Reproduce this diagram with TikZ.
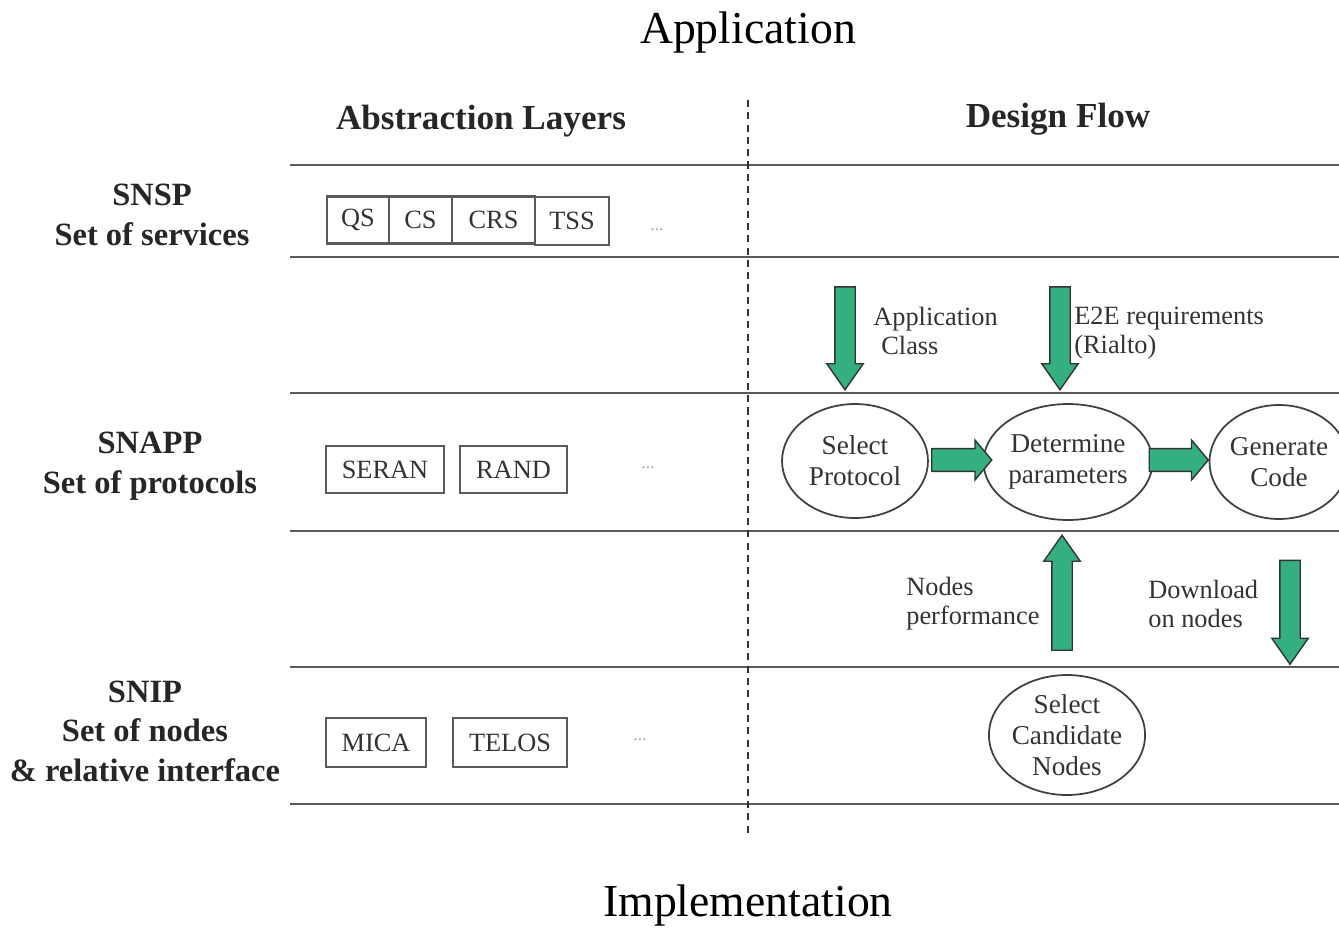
\documentclass[tikz,border=0pt]{standalone}
\usepackage{fontspec}
\setmainfont{Liberation Serif}
\usetikzlibrary{shapes.geometric,shapes.arrows}
\definecolor{flowgreen}{RGB}{52,176,128}
\definecolor{linegray}{RGB}{90,90,90}
\begin{document}
\begin{tikzpicture}[x=0.02cm,y=-0.02cm,
  layerline/.style={draw=linegray,line width=1.5pt},
  itembox/.style={draw=linegray,line width=1.2pt,inner sep=0pt,font=\fontsize{15}{17}\selectfont,text=black!80},
  flowcirc/.style={draw=black!75,line width=1pt,ellipse,inner sep=0pt,align=center,font=\fontsize{15.5}{17.5}\selectfont,text=black!80},
  fatarrow/.style={single arrow,draw=black!80,fill=flowgreen,line width=0.8pt,inner xsep=0pt,inner ysep=0.19cm,single arrow head extend=0.16cm,single arrow tip angle=70,minimum width=0.7cm},
  sidearrow/.style={single arrow,draw=black!80,fill=flowgreen,line width=0.8pt,inner xsep=0pt,inner ysep=0.21cm,single arrow head extend=0.17cm,single arrow tip angle=100},
  layertitle/.style={font=\bfseries\fontsize{18.5}{22.5}\selectfont,align=center,text=black!85},
  coltitle/.style={font=\bfseries\fontsize{20}{24}\selectfont,text=black!85},
  flowlabel/.style={font=\fontsize{15}{16.5}\selectfont,align=left,anchor=west,text=black!80,inner sep=0pt},
  dots/.style={font=\fontsize{10}{11}\selectfont,text=black!35}]
\useasboundingbox (0,0) rectangle (1339,927);
% titles
\node[font=\fontsize{26}{30}\selectfont] (app) at (748,33) {Application};
\node[font=\fontsize{26}{30}\selectfont] (impl) at (748,906) {Implementation};
\node[coltitle] (abs) at (481,121) {Abstraction Layers};
\node[coltitle] (des) at (1058,119) {Design Flow};
% layer lines
\foreach \yy/\nm in {165/l1,257/l2,393/l3,531/l4,667/l5,804/l6}{
  \coordinate (\nm w) at (290,\yy);
  \coordinate (\nm e) at (1339,\yy);
  \draw[layerline] (\nm w) -- (\nm e);
}
% dashed divider
\coordinate (dtop) at (748,100);
\coordinate (dbot) at (748,836);
\draw[black!80,line width=0.9pt,dash pattern=on 4pt off 3pt] (dtop) -- (dbot);
% layer labels
\node[layertitle] (snsp) at (152,215) {SNSP\\Set of services};
\node[layertitle] (snapp) at (150,466) {SNAPP\\Set of protocols};
\node[layertitle] (snip) at (145,731) {SNIP\\Set of nodes\\\&~relative interface};
% service boxes
\node[itembox,minimum width=1.24cm,minimum height=0.94cm] (qs) at (358,220) {QS};
\node[itembox,minimum width=1.26cm,minimum height=0.94cm] (cs) at (420.5,220) {CS};
\node[itembox,minimum width=1.66cm,minimum height=0.94cm] (crs) at (493.5,220) {CRS};
\node[itembox,minimum width=1.48cm,minimum height=0.96cm] (tss) at (572,221) {TSS};
\node[dots] (d1) at (657,230) {...};
% protocol boxes
\node[itembox,minimum width=2.36cm,minimum height=0.94cm] (seran) at (385,469.5) {SERAN};
\node[itembox,minimum width=2.14cm,minimum height=0.94cm] (rand) at (513.5,469.5) {RAND};
\node[dots] (d2) at (648,468) {...};
% node boxes
\node[itembox,minimum width=2.0cm,minimum height=0.98cm] (mica) at (376,742.5) {MICA};
\node[itembox,minimum width=2.28cm,minimum height=0.98cm] (telos) at (510,742.5) {TELOS};
\node[dots] (d3) at (640,740) {...};
% flow circles
\node[flowcirc,minimum width=2.92cm,minimum height=2.28cm] (selp) at (855,461) {Select\\Protocol};
\node[flowcirc,minimum width=2.88cm,minimum height=2.32cm] (detp) at (1068,462) {Determine\\parameters};
\node[flowcirc,minimum width=2.6cm,minimum height=2.28cm] (genc) at (1279,462) {Generate\\Code};
\node[flowcirc,minimum width=2.8cm,minimum height=2.4cm] (selc) at (1067,735) {Select\\Candidate\\Nodes};
% vertical arrows
\node[fatarrow,minimum height=2.06cm,rotate=-90] (aapp) at (845,331) {};
\node[fatarrow,minimum height=2.06cm,rotate=-90] (ae2e) at (1060,331) {};
\node[fatarrow,minimum height=2.3cm,rotate=90] (aperf) at (1062,600) {};
\node[fatarrow,minimum height=2.08cm,rotate=-90] (adown) at (1290,605) {};
% horizontal arrows
\node[sidearrow,minimum height=1.2cm,minimum width=0.8cm] (ar1) at (957,460) {};
\node[sidearrow,minimum height=1.18cm,minimum width=0.8cm] (ar2) at (1174,460) {};
% flow labels
\node[flowlabel] (lapp) at (873,331) {Application\\\hspace*{0.16cm}Class};
\node[flowlabel] (le2e) at (1074,333) {E2E requirements\\(Rialto)};
\node[flowlabel] (lperf) at (906,604) {Nodes\\performance};
\node[flowlabel] (ldown) at (1148,604) {Download\\on nodes};
\end{tikzpicture}
\end{document}
